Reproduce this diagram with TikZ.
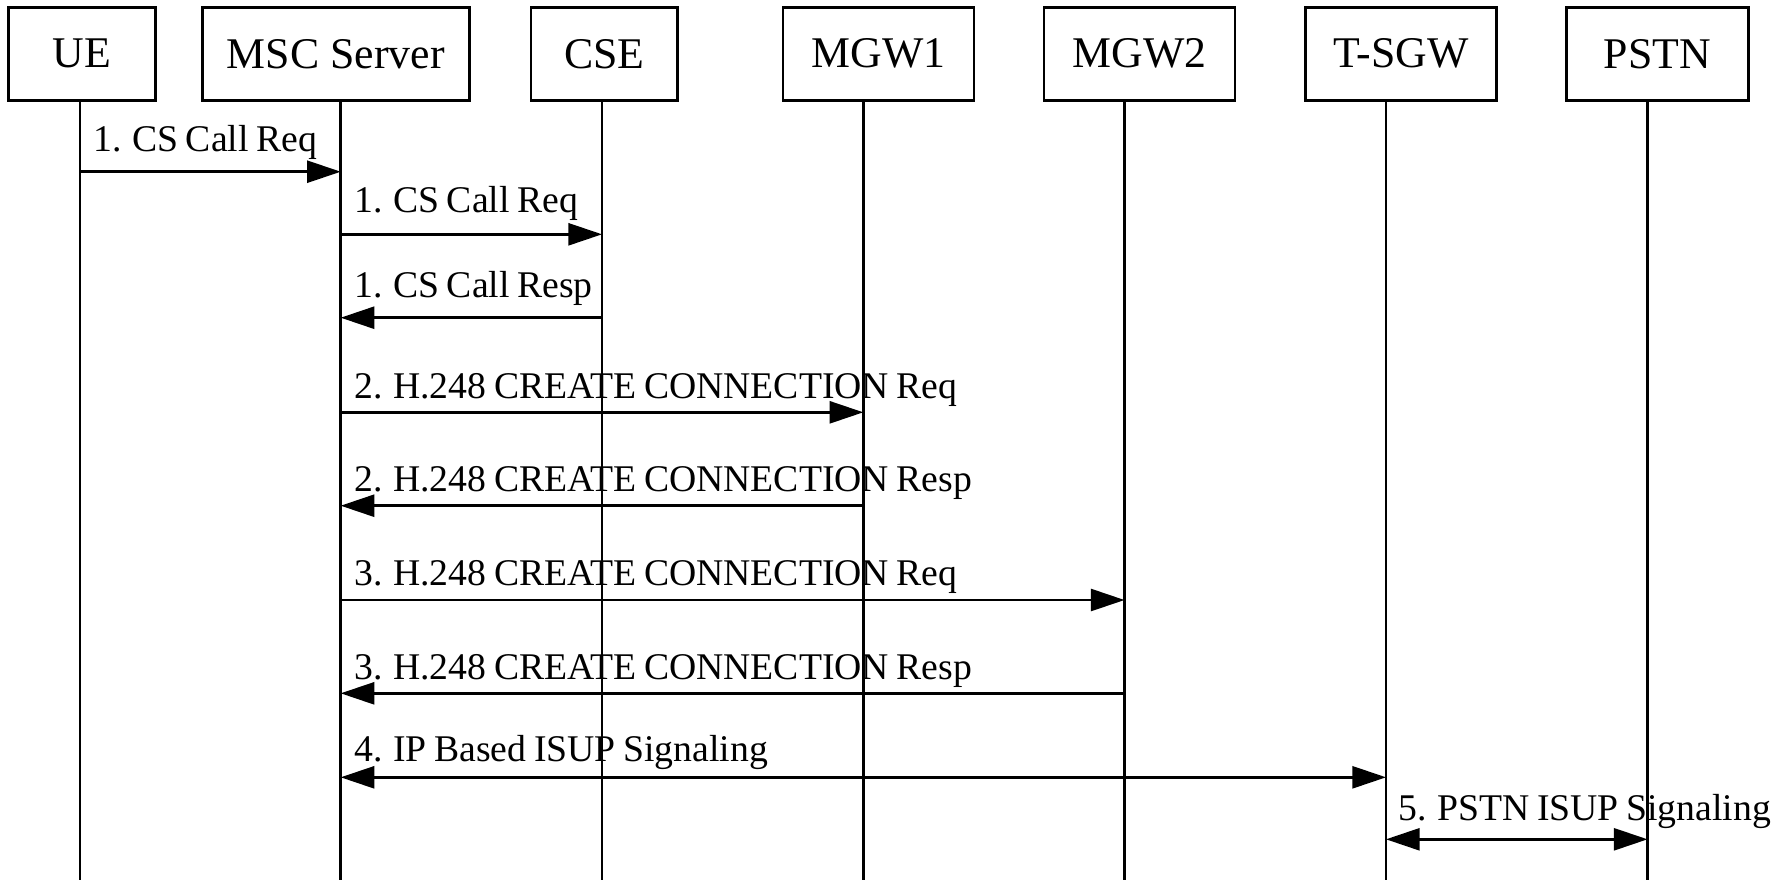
\documentclass[tikz,border=0pt]{standalone}
\usepackage{fontspec}
\setmainfont{Liberation Serif}
\newfontfamily\msgfont[WordSpace=0.8]{Liberation Serif}
\usetikzlibrary{arrows.meta}
\begin{document}
\begin{tikzpicture}[x=0.5pt,y=-0.5pt,
  entity/.style={draw, line width=1.25pt, minimum height=46.5pt, inner sep=0pt,
    font=\fontsize{21.9}{26}\selectfont},
  life/.style={line width=1.25pt},
  msg/.style={line width=1.25pt, -{Triangle[length=16.8pt,width=11pt]}},
  msgboth/.style={line width=1.25pt,
    {Triangle[length=16.8pt,width=11pt]}-{Triangle[length=16.8pt,width=11pt]}},
  lbl/.style={anchor=base west, inner sep=0pt, font=\msgfont\fontsize{18.85}{22}\selectfont}]
\useasboundingbox (0,0) rectangle (1783,880);

% participants
\node[entity, minimum width=73.7pt]  (ue)   at (82,53.8)     {UE};
\node[entity, minimum width=133.5pt] (msc)  at (335.8,53.8)  {MSC Server};
\node[entity, minimum width=73.25pt] (cse)  at (604.45,53.8) {CSE};
\node[entity, minimum width=95.6pt]  (mgw1) at (878.35,53.8) {MGW1};
\node[entity, minimum width=95.5pt]  (mgw2) at (1139.5,53.8) {MGW2};
\node[entity, minimum width=95.5pt]  (tsgw) at (1401.2,53.8) {T-SGW};
\node[entity, minimum width=90.8pt]  (pstn) at (1657.5,53.8) {PSTN};

% lifeline tops (on the lower edge of each box) and bottoms
\coordinate (lUE)   at (80,100);     \coordinate (bUE)   at (80,880);
\coordinate (lMSC)  at (340.7,100);  \coordinate (bMSC)  at (340.7,880);
\coordinate (lCSE)  at (602,100);    \coordinate (bCSE)  at (602,880);
\coordinate (lMGW1) at (863.3,100);  \coordinate (bMGW1) at (863.3,880);
\coordinate (lMGW2) at (1124.5,100); \coordinate (bMGW2) at (1124.5,880);
\coordinate (lTSGW) at (1386,100);   \coordinate (bTSGW) at (1386,880);
\coordinate (lPSTN) at (1647.5,100); \coordinate (bPSTN) at (1647.5,880);

\foreach \n in {UE,MSC,CSE,MGW1,MGW2,TSGW,PSTN}
  \draw[life] (l\n) -- (b\n);

% message rows
\coordinate (m1) at (0,171.7);
\coordinate (m2) at (0,234.3);
\coordinate (m3) at (0,317.7);
\coordinate (m4) at (0,412.3);
\coordinate (m5) at (0,505.7);
\coordinate (m6) at (0,600);
\coordinate (m7) at (0,693.3);
\coordinate (m8) at (0,777.3);
\coordinate (m9) at (0,839.3);

\draw[msg] (lUE |- m1) -- (lMSC |- m1);
\node[lbl] (t1) at (93,151.7) {1. CS Call Req};

\draw[msg] (lMSC |- m2) -- (lCSE |- m2);
\node[lbl] (t2) at (354,212.3) {1. CS Call Req};

\draw[msg] (lCSE |- m3) -- (lMSC |- m3);
\node[lbl] (t3) at (354,297.3) {1. CS Call Resp};

\draw[msg] (lMSC |- m4) -- (lMGW1 |- m4);
\node[lbl] (t4) at (354,398.3) {2. H.248 CREATE CONNECTION Req};

\draw[msg] (lMGW1 |- m5) -- (lMSC |- m5);
\node[lbl] (t5) at (354,491.7) {2. H.248 CREATE CONNECTION Resp};

\draw[msg] (lMSC |- m6) -- (lMGW2 |- m6);
\node[lbl] (t6) at (354,585) {3. H.248 CREATE CONNECTION Req};

\draw[msg] (lMGW2 |- m7) -- (lMSC |- m7);
\node[lbl] (t7) at (354,679) {3. H.248 CREATE CONNECTION Resp};

\draw[msgboth] (lMSC |- m8) -- (lTSGW |- m8);
\node[lbl] (t8) at (354,761.7) {4. IP Based ISUP Signaling};

\draw[msgboth] (lTSGW |- m9) -- (lPSTN |- m9);
\node[lbl] (t9) at (1398,820) {5. PSTN ISUP Signaling};
\end{tikzpicture}
\end{document}
